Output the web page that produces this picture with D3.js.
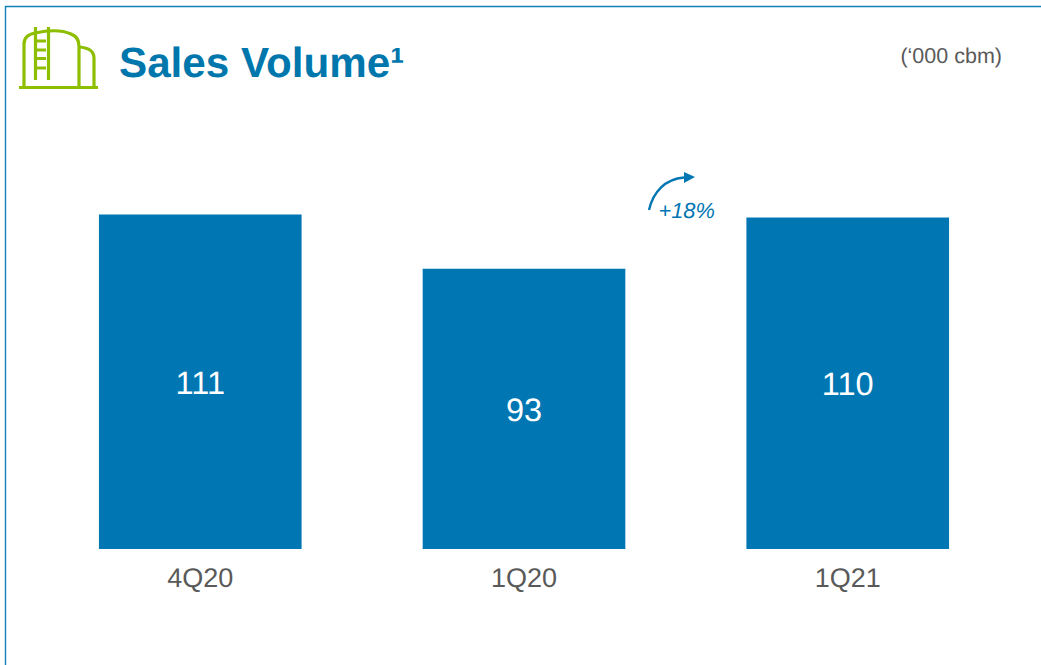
<!DOCTYPE html>
<html>
<head>
<meta charset="utf-8">
<script src="https://cdn.jsdelivr.net/npm/d3@7/dist/d3.min.js"></script>
<style>
html,body{margin:0;padding:0;background:#fff;overflow:hidden}
svg{display:block;font-family:"Liberation Sans",Arial,sans-serif;text-rendering:geometricPrecision}
</style>
</head>
<body>
<svg id="chart" width="1041" height="665"></svg>
<script>
const categories = ["4Q20", "1Q20", "1Q21"];
const volumes = [111, 93, 110];
const titleText = "Sales Volume¹";
const unitText = "(‘000 cbm)";
const growthText = "+18%";

const blue = "#0076B3";
const titleBlue = "#0077AC";
const green = "#8DBE00";
const grey = "#595959";

const svg = d3.select("#chart");

// Panel border: top and left edges only
svg.append("path")
  .attr("d", "M1041,6.5H5.5V665")
  .attr("fill", "none")
  .attr("stroke", "#0F82BC")
  .attr("stroke-width", 1.4);

// Storage tank icon
const icon = svg.append("g")
  .attr("fill", "none")
  .attr("stroke", green)
  .attr("stroke-width", 3.2);
icon.append("path").attr("d", "M19,87.5H98");
icon.append("path").attr("d", "M24,87V44Q24,35 35,33Q58,28 71,34Q79,37 79,46V87");
icon.append("path").attr("d", "M79,47Q94,48 94,58V87");
icon.append("path").attr("d", "M35.5,27V80M48.5,27V80");
icon.append("path").attr("d", "M36,41H46M36,50H46M36,58.5H46M36,68H46").attr("stroke-width", 2.8);

// Title and unit
svg.append("text")
  .attr("x", 119).attr("y", 77)
  .attr("font-size", 42.2).attr("font-weight", 700)
  .attr("fill", titleBlue)
  .text(titleText);

svg.append("text")
  .attr("x", 1002).attr("y", 63)
  .attr("text-anchor", "end")
  .attr("font-size", 21.5)
  .attr("fill", grey)
  .text(unitText);

// Scales
const x = d3.scaleBand()
  .domain(categories)
  .range([38.4, 1009.6])
  .paddingInner(0.374)
  .paddingOuter(0.187);

const y = d3.scaleLinear()
  .domain([0, 111])
  .range([549, 214.5]);

const rows = categories.map((c, i) => ({ category: c, value: volumes[i] }));

// Bars
svg.append("g").selectAll("rect")
  .data(rows)
  .join("rect")
  .attr("x", d => x(d.category))
  .attr("y", d => y(d.value))
  .attr("width", x.bandwidth())
  .attr("height", d => y(0) - y(d.value))
  .attr("fill", blue);

// Value labels centred in each bar
svg.append("g").selectAll("text")
  .data(rows)
  .join("text")
  .attr("x", d => x(d.category) + x.bandwidth() / 2)
  .attr("y", d => (y(d.value) + y(0)) / 2 + 12)
  .attr("text-anchor", "middle")
  .attr("font-size", 32.5)
  .attr("fill", "#fff")
  .text(d => d.value);

// Category axis without line or ticks
const axis = svg.append("g")
  .attr("transform", "translate(0,549)")
  .call(d3.axisBottom(x).tickSize(0).tickPadding(19));
axis.select(".domain").remove();
axis.selectAll("text")
  .attr("font-family", '"Liberation Sans",Arial,sans-serif')
  .attr("font-size", 27)
  .attr("fill", grey);

// Growth annotation
svg.append("path")
  .attr("d", "M649,210C653,192 665,179 684,177.5")
  .attr("fill", "none")
  .attr("stroke", blue)
  .attr("stroke-width", 2.4);
svg.append("path")
  .attr("d", "M684,172L695,177L684,183Z")
  .attr("fill", blue);
svg.append("text")
  .attr("x", 658.5).attr("y", 218)
  .attr("font-size", 21.8).attr("font-style", "italic")
  .attr("fill", blue)
  .text(growthText);
</script>
</body>
</html>
